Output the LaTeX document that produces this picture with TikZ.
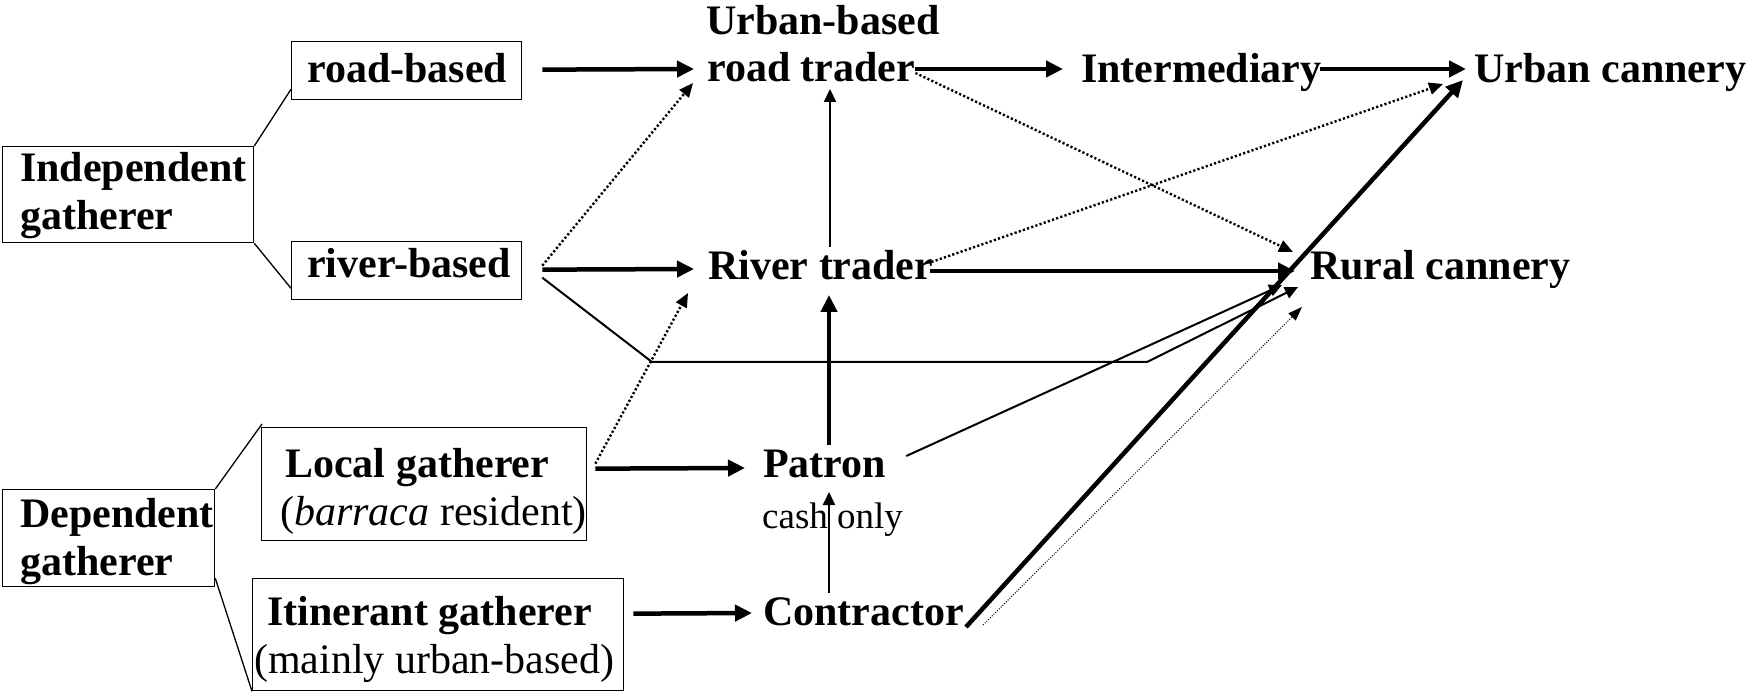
\documentclass[tikz,border=0pt]{standalone}
\usepackage{fontspec}
\setmainfont{Liberation Serif}
\usetikzlibrary{arrows.meta}
\newcommand\dgfont{\fontsize{42}{48}\selectfont}
\newcommand\dgsmall{\fontsize{37}{42}\selectfont}
\tikzset{
  thickarr/.style={line width=4.5pt, -{Triangle[length=17pt,width=16pt]}},
  thinarr/.style={line width=2pt, -{Triangle[length=13pt,width=12pt]}},
  thinline/.style={line width=2pt},
  dotarr/.style={line width=2.4pt, dash pattern=on 2.2pt off 2.2pt, -{Triangle[length=14pt,width=12pt]}},
  finedot/.style={line width=1pt, dash pattern=on 1pt off 1.5pt, -{Triangle[length=14pt,width=10pt]}},
  link/.style={line width=1.3pt},
  gbox/.style={draw, line width=1.3pt, inner sep=0pt, anchor=north west},
  lbl/.style={inner sep=0pt, anchor=base west, font=\dgfont\bfseries},
}
\begin{document}
\begin{tikzpicture}[x=1pt,y=-1pt]
\useasboundingbox (0,0) rectangle (1748,692);
\fill[white] (0,0) rectangle (1748,692);
% boxes
\node[gbox, minimum width=251pt, minimum height=96pt] (bIndep) at (2,146) {};
\node[gbox, minimum width=230pt, minimum height=58pt] (bRoad) at (291,41) {};
\node[gbox, minimum width=230pt, minimum height=58pt] (bRiver) at (291,241) {};
\node[gbox, minimum width=212pt, minimum height=97pt] (bDep) at (2,489) {};
\node[gbox, minimum width=325pt, minimum height=113pt] (bLocal) at (261,427) {};
\node[gbox, minimum width=371pt, minimum height=112pt] (bItin) at (252,578) {};
% box texts
\node[lbl] (tIndep) at (20,182) {\vtop{\hbox{Independent}\hbox{gatherer}}};
\node[lbl] (tRoad) at (307,83) {road-based};
\node[lbl] (tRiver) at (307,278) {river-based};
\node[lbl] (tDep) at (20,527) {\vtop{\hbox{Dependent}\hbox{gatherer}}};
\node[lbl] (tLocal) at (280,477) {\vtop{\hbox{\kern5pt Local gatherer}\hbox{\mdseries(\textit{barraca} resident)}}};
\node[lbl] (tItin) at (254,625) {\vtop{\hbox{\kern13pt Itinerant gatherer}\hbox{\mdseries(mainly urban-based)}}};
% actor texts
\node[lbl] (urbb) at (706,35) {Urban-based};
\node[lbl] (rtrader) at (707,82) {road trader};
\node[lbl] (inter) at (1081,83) {Intermediary};
\node[lbl] (ucan) at (1474,83) {Urban cannery};
\node[lbl] (rvtrader) at (708,280) {River trader};
\node[lbl] (rcan) at (1310,280) {Rural cannery};
\node[lbl] (patron) at (763,477) {Patron};
\node[lbl, font=\dgsmall] (cash) at (762,528) {cash only};
\node[lbl] (contr) at (763,625) {Contractor};
% box links
\draw[link] (bIndep.north east) -- ([shift={(0,-11)}]bRoad.south west);
\draw[link] (bIndep.south east) -- ([shift={(0,-12)}]bRiver.south west);
\draw[link] (bDep.north east) -- ([shift={(1,-3)}]bLocal.north west);
\draw[link] ([shift={(0,-9)}]bDep.south east) -- (bItin.south west);
% thick arrows
\draw[thickarr] ([shift={(20,-1)}]bRoad.east) -- ([shift={(-13,-13)}]rtrader.base west);
\draw[thickarr] ([shift={(20,-1)}]bRiver.east) -- ([shift={(-14,-11)}]rvtrader.base west);
\draw[thickarr] ([shift={(0,-13)}]rtrader.base east) -- ([shift={(-18,-14)}]inter.base west);
\draw[thickarr] ([shift={(-2,-14)}]inter.base east) -- ([shift={(-8,-14)}]ucan.base west);
\draw[thickarr] ([shift={(-3,-9)}]rvtrader.base east) -- ([shift={(-15,-9)}]rcan.base west);
\draw[thickarr] ([shift={(8,-15.5)}]bLocal.east) -- ([shift={(-18,-9)}]patron.base west);
\draw[thickarr] ([shift={(9,-21)}]bItin.east) -- ([shift={(-11,-12)}]contr.base west);
\draw[thickarr] ([shift={(66,-32)}]patron.base west) -- ([shift={(121,15)}]rvtrader.base west);
\draw[thickarr] ([shift={(2,2)}]contr.base east) -- ([shift={(-11,-3)}]ucan.base west);
% thin arrows
\draw[thinarr] ([shift={(122,-33)}]rvtrader.base west) -- ([shift={(123,7)}]rtrader.base west);
\draw[thinarr] ([shift={(66,-32)}]contr.base west) -- ([shift={(66,15)}]patron.base west);
\draw[thinarr] ([shift={(20,-21)}]patron.base east) -- ([shift={(-28,5)}]rcan.base west);
\coordinate (bend1) at (652,362);
\coordinate (bend2) at (1147,362);
\draw[thinline] ([shift={(20,7)}]bRiver.east) -- (bend1) -- (bend2);
\draw[thinarr] (bend2) -- ([shift={(-12,7)}]rcan.base west);
% dotted arrows
\draw[dotarr] ([shift={(20,-5)}]bRiver.east) -- ([shift={(-14,1)}]rtrader.base west);
\draw[dotarr] ([shift={(8,-20.5)}]bLocal.east) -- ([shift={(-20,13)}]rvtrader.base west);
\draw[dotarr] ([shift={(0,-9)}]rtrader.base east) -- ([shift={(-17,-28)}]rcan.base west);
\draw[dotarr] ([shift={(-2,-18)}]rvtrader.base east) -- ([shift={(-31,1)}]ucan.base west);
\draw[finedot] ([shift={(19,0)}]contr.base east) -- ([shift={(-8,27)}]rcan.base west);
\end{tikzpicture}
\end{document}
